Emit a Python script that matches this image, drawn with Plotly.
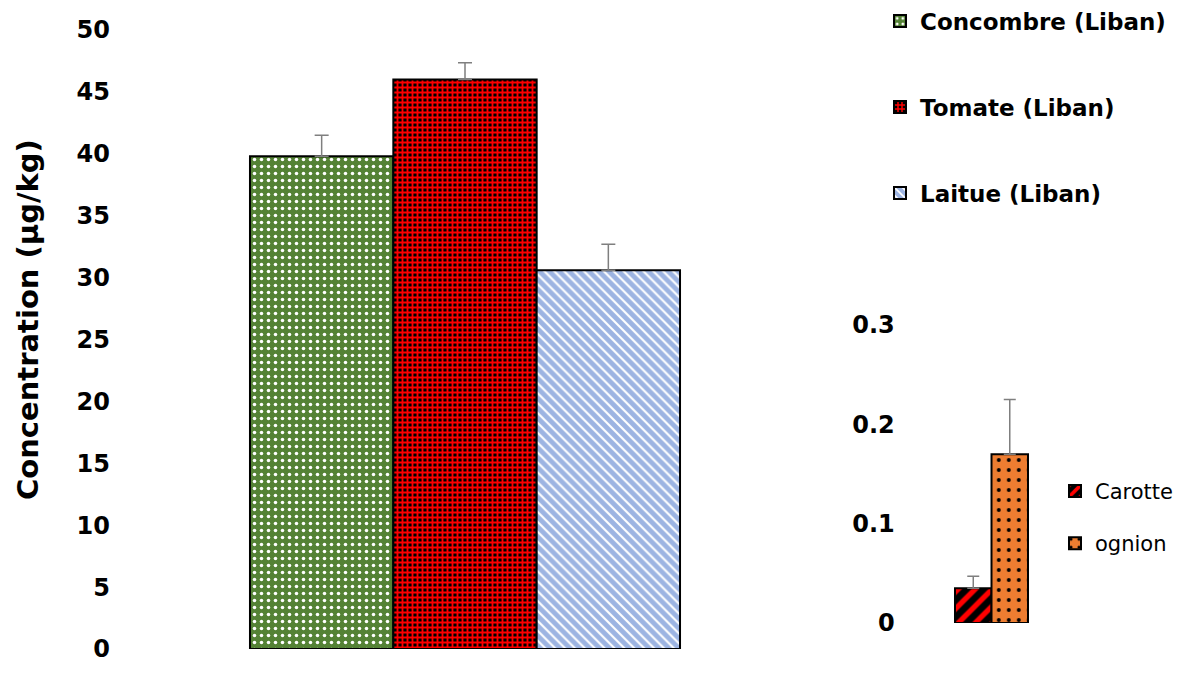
import plotly.graph_objects as go

# ---- data ----
main_categories = ["Concombre (Liban)", "Tomate (Liban)", "Laitue (Liban)"]
main_values = [39.8, 46.0, 30.6]
main_errors = [1.7, 1.35, 2.1]
main_ticks = [0, 5, 10, 15, 20, 25, 30, 35, 40, 45, 50]

inset_categories = ["Carotte", "ognion"]
inset_values = [0.035, 0.17]
inset_errors = [0.012, 0.055]
inset_ticks = [0, 0.1, 0.2, 0.3]
inset_ticktext = ["0", "0.1", "0.2", "0.3"]

y_title = "Concentration (µg/kg)"

# ---- styles ----
FONT = "DejaVu Sans"
main_styles = [
    dict(bg="#548235", fg="#FFFFFF", shape=".", size=7, solidity=0.2),
    dict(bg="#000000", fg="#FF0000", shape="+", size=5, solidity=0.6),
    dict(bg="#9DB4E2", fg="#FFFFFF", shape="\\", size=7, solidity=0.3),
]
inset_styles = [
    dict(bg="#000000", fg="#FF0000", shape="/", size=12, solidity=0.45),
    dict(bg="#ED7D31", fg="#000000", shape=".", size=10, solidity=0.12),
]

fig = go.Figure()

for name, val, err, st in zip(main_categories, main_values, main_errors, main_styles):
    fig.add_trace(go.Bar(
        x=[""], y=[val], name=name, legendgroup=name, legend="legend",
        marker=dict(color=st["bg"], line=dict(color="#000000", width=2),
                    pattern=dict(shape=st["shape"], fgcolor=st["fg"], bgcolor=st["bg"],
                                 size=st["size"], solidity=st["solidity"], fillmode="replace")),
        error_y=dict(type="data", symmetric=False, array=[err], arrayminus=[0],
                     color="#7F7F7F", thickness=1.5, width=7),
        xaxis="x", yaxis="y",
    ))

for name, val, err, st in zip(inset_categories, inset_values, inset_errors, inset_styles):
    fig.add_trace(go.Bar(
        x=[""], y=[val], name=name, legendgroup=name, legend="legend2",
        marker=dict(color=st["bg"], line=dict(color="#000000", width=2),
                    pattern=dict(shape=st["shape"], fgcolor=st["fg"], bgcolor=st["bg"],
                                 size=st["size"], solidity=st["solidity"], fillmode="replace")),
        error_y=dict(type="data", symmetric=False, array=[err], arrayminus=[0],
                     color="#7F7F7F", thickness=1.5, width=6),
        xaxis="x2", yaxis="y2",
    ))

axis_common = dict(showgrid=False, zeroline=False, showline=False)

fig.update_layout(
    width=1184, height=666,
    margin=dict(l=117, r=0, t=22, b=25, autoexpand=False),
    paper_bgcolor="white", plot_bgcolor="rgba(0,0,0,0)",
    barmode="group",
    bargap=0.3676,
    font=dict(family=FONT, color="#000000"),
    xaxis=dict(domain=[0, 0.6373], showticklabels=False, ticks="", **axis_common),
    yaxis=dict(domain=[0, 1], range=[0, 50], tickvals=main_ticks,
               tickfont=dict(family=FONT, size=24, weight="bold"),
               ticks="", ticklabelstandoff=14, **axis_common),
    xaxis2=dict(domain=[0.7580, 0.8662], anchor="y2", showticklabels=False, ticks="",
                **axis_common),
    yaxis2=dict(domain=[0.0420, 0.5234], anchor="x2", range=[0, 0.3],
                tickvals=inset_ticks, ticktext=inset_ticktext,
                tickfont=dict(family=FONT, size=24, weight="bold"),
                ticks="", ticklabelstandoff=38, **axis_common),
    legend=dict(x=0.7076, y=1.049, xanchor="left", yanchor="top",
                font=dict(family=FONT, size=23, weight="bold"),
                traceorder="grouped", tracegroupgap=53, bgcolor="rgba(0,0,0,0)"),
    legend2=dict(x=0.8716, y=0.288, xanchor="left", yanchor="top",
                 font=dict(family=FONT, size=21),
                 traceorder="grouped", tracegroupgap=22, bgcolor="rgba(0,0,0,0)"),
    annotations=[dict(text=y_title, textangle=-90, xref="paper", yref="paper",
                      x=-0.0909, y=0.5315, xanchor="center", yanchor="middle",
                      showarrow=False,
                      font=dict(family=FONT, size=29, weight="bold"))],
)

fig.write_html("out.html")
